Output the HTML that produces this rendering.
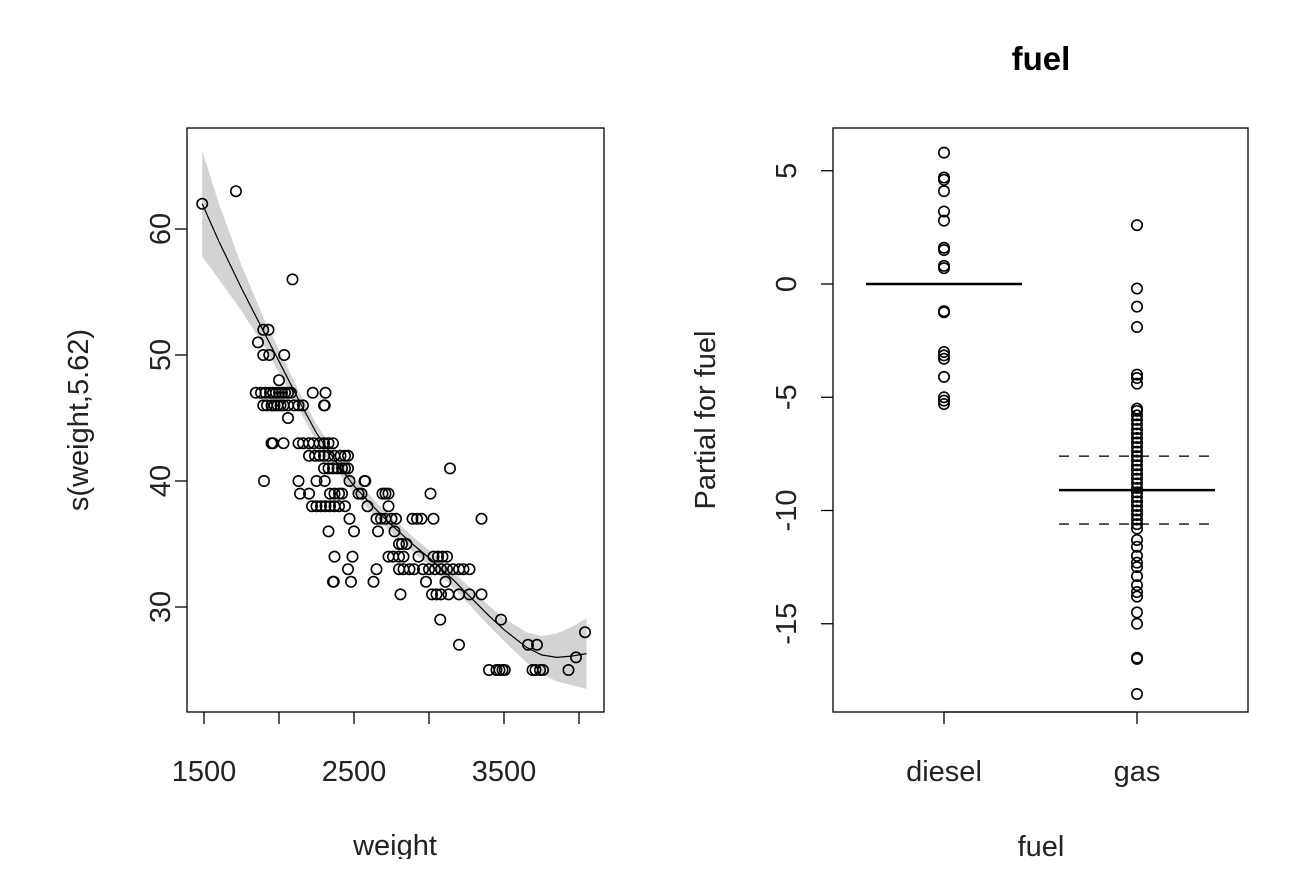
<!DOCTYPE html>
<html><head><meta charset="utf-8"><style>
body{margin:0;background:#fff;overflow:hidden}
svg{display:block;font-family:"Liberation Sans",Arial,sans-serif}
</style></head><body>
<svg id="c" width="1304" height="896">
<defs>
<clipPath id="clipL"><rect x="187" y="128" width="417" height="584"/></clipPath>
<clipPath id="clipAll"><rect x="0" y="0" width="1304" height="859"/></clipPath>
</defs>
</svg>
<script>
// ---- Left panel data: weight vs s(weight) partial residuals ----
const weightRows = [
 [62,[1488]],[63,[1713]],[56,[2090]],[52,[1895,1930]],[51,[1860]],
 [50,[1895,1935,2035]],[48,[2000]],
 [47,[1845,1880,1910,1940,1960,1980,2000,2020,2040,2060,2080,2225,2310]],
 [46,[1895,1920,1950,1970,1990,2010,2030,2060,2100,2130,2160,2300,2305]],
 [45,[2060]],
 [43,[1950,1960,2030,2130,2160,2200,2230,2270,2300,2330,2360]],
 [42,[2200,2240,2270,2300,2330,2370,2410,2440,2460]],
 [41,[2300,2330,2360,2390,2420,2440,2460,3140]],
 [40,[1900,2130,2250,2305,2470,2570,2575]],
 [39,[2140,2200,2340,2370,2400,2420,2530,2550,2690,2710,2730,3010]],
 [38,[2220,2250,2280,2310,2340,2370,2400,2440,2590,2730]],
 [37,[2470,2650,2680,2710,2750,2780,2890,2920,2950,3030,3350]],
 [36,[2330,2500,2660,2770]],
 [35,[2800,2820,2850]],
 [34,[2370,2490,2730,2760,2800,2830,2930,3030,3060,3090,3120]],
 [33,[2460,2650,2800,2830,2870,2900,2960,3000,3040,3080,3120,3160,3200,3230,3270]],
 [32,[2360,2365,2480,2630,2980,3110]],
 [31,[2810,3020,3050,3080,3130,3200,3270,3350]],
 [29,[3075,3480]],[28,[4040]],[27,[3200,3660,3720]],[26,[3980]],
 [25,[3400,3450,3470,3490,3505,3690,3710,3740,3760,3930]]
];
const fitX  = [1488,1600,1750,1900,2000,2150,2250,2400,2500,2650,2750,2900,3000,3150,3250,3400,3500,3650,3750,3850,3950,4050];
const fitY  = [62,59,55.3,51.8,49.5,46,43.8,41.2,39.6,37.7,36.5,34.9,33.9,32.3,31.1,29.3,28.2,26.8,26.2,26.0,26.1,26.3];
const fitSE = [4.2,3.0,1.8,1.1,0.9,0.7,0.7,0.6,0.6,0.6,0.6,0.6,0.6,0.6,0.7,0.8,0.9,1.2,1.5,1.9,2.3,2.8];
const leftXTicks = [1500,2000,2500,3000,3500,4000];
const leftXLabels = ["1500","","2500","","3500",""];
const leftYTicks = [30,40,50,60];

// ---- Right panel data: partial for fuel ----
const fuelCats = ["diesel","gas"];
const fuelEffect = [0,-9.1];
const fuelSEband = [0,1.5];
const dieselVals = [5.8,4.7,4.6,4.1,3.2,2.8,1.6,1.5,0.8,0.7,-1.2,-1.25,-3.0,-3.15,-3.3,-4.1,-5.0,-5.15,-5.3];
const gasVals = [2.6,-0.2,-1.0,-1.9,-4.0,-4.15,-4.4,-5.5,-5.6,-5.8,-6.0,-6.2,-6.4,-6.6,-6.8,-7.0,-7.2,-7.4,-7.6,-7.8,-8.0,-8.2,-8.4,-8.6,-8.8,-9.0,-9.2,-9.4,-9.6,-9.8,-10.0,-10.2,-10.4,-10.6,-10.8,-11.3,-11.6,-12.0,-12.3,-12.5,-12.9,-13.3,-13.6,-13.8,-14.5,-15.0,-16.5,-16.55,-18.1];
const rightYTicks = [5,0,-5,-10,-15];

const svg = document.getElementById('c');
const NS = 'http://www.w3.org/2000/svg';
function mk(tag, attrs, parent){const e=document.createElementNS(NS,tag);for(const k in attrs)e.setAttribute(k,attrs[k]);(parent||svg).appendChild(e);return e;}
const FS = 29;
const BOT = 712;

const lx = w => 204 + (w-1500)*0.15;
const ly = v => 229 - (v-60)*12.6;
const rx = i => 944 + i*193;
const ry = v => 284 - v*22.65;

const root = mk('g',{'clip-path':'url(#clipAll)'});



// Left panel
const gL = mk('g',{},root);


let up='',dn='';
fitX.forEach((x,i)=>{up+=(i?'L':'M')+lx(x)+','+ly(fitY[i]+fitSE[i]);});
for(let i=fitX.length-1;i>=0;i--){dn+='L'+lx(fitX[i])+','+ly(fitY[i]-fitSE[i]);}
const band = mk('path',{d:up+dn+'Z',fill:'#d3d3d3',stroke:'none','clip-path':'url(#clipL)'},gL);


const gP = mk('g',{fill:'none',stroke:'#000','stroke-width':1.6},gL);


weightRows.forEach(r=>r[1].forEach(w=>{
  const c=mk('circle',{cx:lx(w),cy:ly(r[0]),r:5.2},gP);
  
  
}));
let fp='';fitX.forEach((x,i)=>{fp+=(i?'L':'M')+lx(x)+','+ly(fitY[i]);});
const fl = mk('path',{d:fp,fill:'none',stroke:'#000','stroke-width':1.2},gL);


const bL = mk('rect',{x:187,y:128,width:417,height:BOT-128,fill:'none',stroke:'#000','stroke-width':1.3},gL);


leftXTicks.forEach((t,i)=>{
  mk('line',{x1:lx(t),x2:lx(t),y1:BOT,y2:BOT+12,stroke:'#000','stroke-width':1.3},gL);
  if(leftXLabels[i]){const tx=mk('text',{x:lx(t),y:781,'font-size':FS,'text-anchor':'middle',fill:'#222'},gL);tx.textContent=leftXLabels[i];
  
  }
});
leftYTicks.forEach(t=>{
  mk('line',{x1:175,x2:187,y1:ly(t),y2:ly(t),stroke:'#000','stroke-width':1.3},gL);
  const tx=mk('text',{x:0,y:0,'font-size':FS,'text-anchor':'middle',fill:'#222',transform:`translate(170,${ly(t)}) rotate(-90)`},gL);tx.textContent=t;
  
  
});
let t1=mk('text',{x:395,y:855,'font-size':FS,'text-anchor':'middle',fill:'#222'},gL);t1.textContent='weight';


let t2=mk('text',{x:0,y:0,'font-size':FS,'text-anchor':'middle',fill:'#222',transform:'translate(88,420) rotate(-90)'},gL);t2.textContent='s(weight,5.62)';



// Right panel
const gR = mk('g',{},root);


fuelCats.forEach((c,i)=>{
  const x0=rx(i)-78,x1=rx(i)+78;
  const m=mk('line',{x1:x0,x2:x1,y1:ry(fuelEffect[i]),y2:ry(fuelEffect[i]),stroke:'#000','stroke-width':2.4},gR);
  
  
  if(fuelSEband[i]>0){[1,-1].forEach(s=>{
    const d=mk('line',{x1:x0,x2:x1,y1:ry(fuelEffect[i]+s*fuelSEband[i]),y2:ry(fuelEffect[i]+s*fuelSEband[i]),stroke:'#333','stroke-width':1.6,'stroke-dasharray':'10,10'},gR);
    
    
  });}
});
const gD = mk('g',{fill:'none',stroke:'#000','stroke-width':1.6},gR);


dieselVals.forEach(v=>{const c=mk('circle',{cx:rx(0),cy:ry(v),r:5.2},gD);
  
  });
const gG = mk('g',{fill:'none',stroke:'#000','stroke-width':1.6},gR);


gasVals.forEach(v=>{const c=mk('circle',{cx:rx(1),cy:ry(v),r:5.2},gG);
  
  });
const bR = mk('rect',{x:833,y:128,width:415,height:BOT-128,fill:'none',stroke:'#000','stroke-width':1.3},gR);


mk('line',{x1:rx(0),x2:rx(1),y1:BOT,y2:BOT,stroke:'#000','stroke-width':1.3},gR);
fuelCats.forEach((c,i)=>{
  mk('line',{x1:rx(i),x2:rx(i),y1:BOT,y2:BOT+12,stroke:'#000','stroke-width':1.3},gR);
  const tx=mk('text',{x:rx(i),y:781,'font-size':FS,'text-anchor':'middle',fill:'#222'},gR);tx.textContent=c;
  
  
});
rightYTicks.forEach(t=>{
  mk('line',{x1:821,x2:833,y1:ry(t),y2:ry(t),stroke:'#000','stroke-width':1.3},gR);
  const tx=mk('text',{x:0,y:0,'font-size':FS,'text-anchor':'middle',fill:'#222',transform:`translate(796,${ry(t)}) rotate(-90)`},gR);tx.textContent=t;
  
  
});
let t3=mk('text',{x:1041,y:856,'font-size':FS,'text-anchor':'middle',fill:'#222'},gR);t3.textContent='fuel';


let t4=mk('text',{x:0,y:0,'font-size':FS,'text-anchor':'middle',fill:'#222',transform:'translate(715,420) rotate(-90)'},gR);t4.textContent='Partial for fuel';


let t5=mk('text',{x:1041,y:70,'font-size':33,'font-weight':'bold','text-anchor':'middle',fill:'#000'},gR);t5.textContent='fuel';


</script>
</body></html>
